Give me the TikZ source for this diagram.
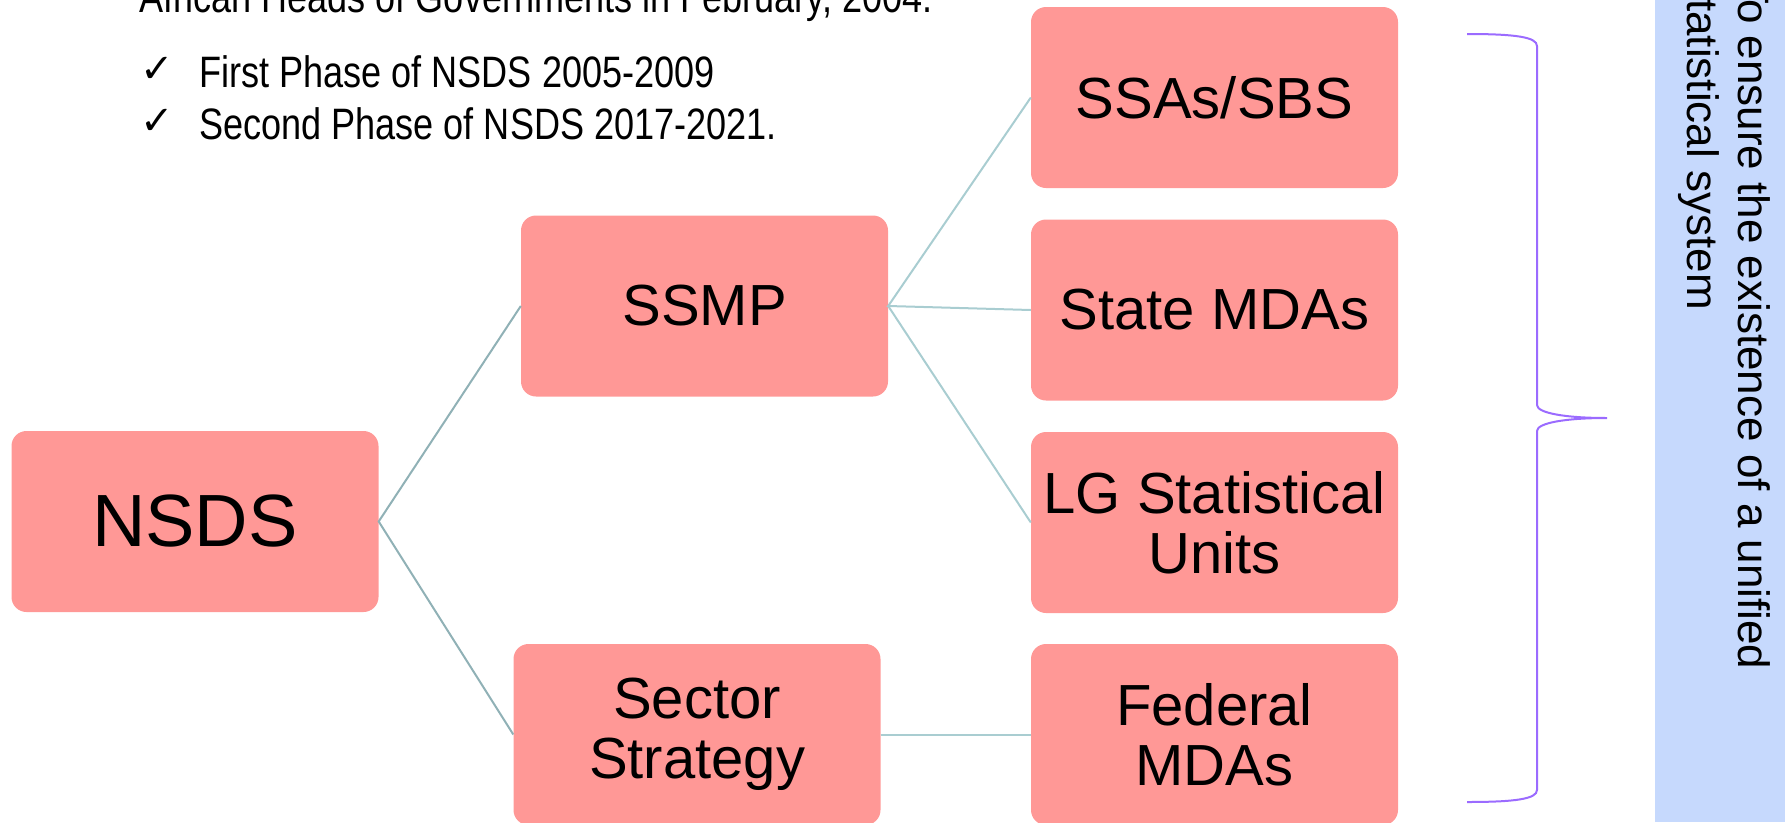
\documentclass[tikz,border=0pt]{standalone}
\usepackage{fontspec}
\setmainfont{Liberation Sans}
\newfontfamily\narrowfont[FakeStretch=0.82]{Liberation Sans}
\newfontfamily\symfont{DejaVu Sans}
\definecolor{boxfill}{HTML}{FF9896}
\definecolor{rootlink}{HTML}{90B1B6}
\definecolor{leaflink}{HTML}{A9CDD1}
\definecolor{panelblue}{HTML}{C6D9FD}
\definecolor{bracecol}{HTML}{9B6BFF}
\newcommand{\tickmark}{\makebox[59pt][l]{\raisebox{5pt}{\symfont\fontsize{40}{40}\selectfont ✓}}}
\tikzset{
  orgbox/.style={fill=boxfill, rounded corners=15pt, minimum width=367pt,
    minimum height=181pt, inner sep=0pt, align=center, text=black,
    font=\fontsize{58}{60}\selectfont},
  rootlinkline/.style={draw=rootlink, line width=2pt},
  leaflinkline/.style={draw=leaflink, line width=2pt},
  listline/.style={anchor=base west, inner sep=0pt,
    font=\narrowfont\fontsize{44}{52}\selectfont},
}
\begin{document}
\begin{tikzpicture}[x=1pt,y=-1pt]
\useasboundingbox (0,0) rectangle (1785,822);
\clip (0,0) rectangle (1785,822);

% introductory text and list
\node[listline] (intro) at (139,12) {African Heads of Governments in February, 2004.};
\node[listline] (phase1) at (140,87) {\tickmark First Phase of NSDS 2005-2009};
\node[listline] (phase2) at (140,139) {\tickmark Second Phase of NSDS 2017-2021.};

% hierarchy boxes
\node[orgbox, font=\fontsize{74}{76}\selectfont] (nsds) at (195,521.5) {NSDS};
\node[orgbox] (ssmp) at (704.5,306) {SSMP};
\node[orgbox] (sector) at (697,734.5) {Sector\\Strategy};
\node[orgbox] (ssas) at (1214.5,97.5) {SSAs/SBS};
\node[orgbox] (state) at (1214.5,310) {State MDAs};
\node[orgbox] (lg) at (1214.5,522.5) {LG Statistical\\Units};
\node[orgbox] (federal) at (1214.5,734.5) {Federal\\MDAs};

% connectors
\draw[rootlinkline] (ssmp.west) -- (nsds.east) -- (sector.west);
\draw[leaflinkline] (ssas.west) -- (ssmp.east) -- (state.west);
\draw[leaflinkline] (ssmp.east) -- (lg.west);
\draw[leaflinkline] (sector.east) -- (federal.west);

% brace gathering the units
\coordinate (bracetip) at (1607,418);
\draw[bracecol, line width=2pt]
  (1467,34) .. controls (1515,34) and (1537,37) .. (1537,46)
  -- (1537,405) .. controls (1537,413) and (1565,418) .. (bracetip)
  .. controls (1565,418) and (1537,423) .. (1537,431)
  -- (1537,790) .. controls (1537,799) and (1515,802) .. (1467,802);

% side panel with purpose statement
\fill[panelblue] (1655,0) rectangle (1785,822);
\node[rotate=-90, anchor=north west, inner sep=0pt, align=left,
  font=\fontsize{44}{51}\selectfont] (purpose) at (1771,-23)
  {To ensure the existence of a unified\\statistical system};
\end{tikzpicture}
\end{document}
